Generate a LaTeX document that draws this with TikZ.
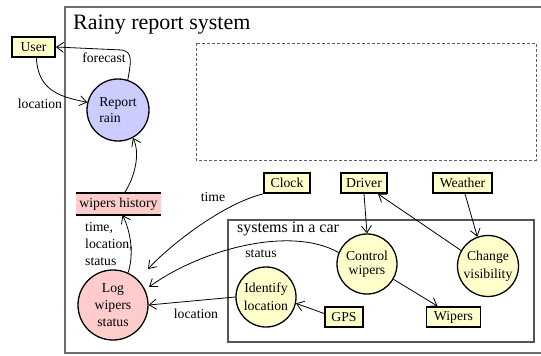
\documentclass[tikz,border=0pt]{standalone}
\usepackage{fontspec}
\setmainfont{Liberation Serif}
\newfontfamily\diagfont{Liberation Serif}
\usetikzlibrary{arrows.meta,calc}
\definecolor{entityfill}{HTML}{FFFFCC}
\definecolor{reportfill}{HTML}{CCCCFF}
\definecolor{storefill}{HTML}{FFCCCC}
\definecolor{framegray}{HTML}{6E6E6E}
\definecolor{boxgray}{HTML}{555555}
\definecolor{dashgray}{HTML}{606060}
\begin{document}
\begin{tikzpicture}[x=1pt,y=-1pt,
  txt/.style={font=\diagfont\fontsize{13.7}{16.5}\selectfont},
  entity/.style={txt, draw=black, line width=1.8pt, fill=entityfill,
    minimum height=20pt, inner xsep=2pt, inner ysep=2pt},
  process/.style={circle, draw=black, line width=1.3pt, inner sep=0pt, align=center},
  flow/.style={-{Straight Barb[length=7pt,width=10pt]}, line width=0.8pt},
  lbl/.style={txt, inner sep=0pt}]
\useasboundingbox (0,0) rectangle (541,356);

% system frame, open on the right
\draw[framegray, line width=1.5pt] (545,7) -- (65,7) -- (65,353) -- (545,353);
\node[anchor=base west, inner sep=0pt, font=\diagfont\fontsize{22}{26}\selectfont] (title) at (73,29) {Rainy report system};

% empty placeholder area
\draw[dashgray, dash pattern=on 3pt off 2pt, line width=0.9pt] (196,43) rectangle (536,160);

% car subsystem
\draw[boxgray, line width=1.2pt] (228,220) rectangle (534,342);
\node[anchor=base west, inner sep=0pt, font=\diagfont\fontsize{16}{19}\selectfont] (cartitle) at (237,232) {systems in a car};

% external entities
\node[entity, minimum width=43pt] (user) at (33.5,47) {User};
\node[entity, minimum width=46pt] (clock) at (287,183) {Clock};
\node[entity, minimum width=46pt] (driver) at (364,183) {Driver};
\node[entity, minimum width=59pt] (weather) at (462.5,183) {Weather};
\node[entity, minimum width=38pt] (gps) at (344,317) {GPS};
\node[entity, minimum width=54pt] (wipers) at (453.5,317) {Wipers};

% data store
\node[txt, fill=storefill, minimum width=85pt, minimum height=22pt, inner sep=0pt] (wh) at (118.5,204) {wipers history};
\draw[line width=1.8pt] (wh.north west) -- (wh.north east);
\draw[line width=1.8pt] (wh.south west) -- (wh.south east);

% processes
\node[process, fill=reportfill, minimum size=62pt, align=left, font=\diagfont\fontsize{13.7}{16}\selectfont] (report) at (118,110) {Report\\rain};
\node[process, fill=storefill, minimum size=70pt, font=\diagfont\fontsize{13.7}{17}\selectfont] (log) at (113,305) {Log\\wipers\\status};
\node[process, fill=entityfill, minimum size=60pt, font=\diagfont\fontsize{13.7}{14}\selectfont] (control) at (367,264) {Control\\wipers};
\node[process, fill=entityfill, minimum size=61pt, font=\diagfont\fontsize{13.7}{18}\selectfont] (visib) at (488,266) {Change\\visibility};
\node[process, fill=entityfill, minimum size=60pt, font=\diagfont\fontsize{13.7}{18}\selectfont] (identify) at (266,297) {Identify\\location};

% arrow ends beside the log process
\coordinate (logA) at (148,269);
\coordinate (logB) at (149,287);

% data flows
\draw[flow] (report.72) .. controls (131,62) and (133,52) .. (122,50) -- (user.east);
\node[lbl, anchor=base] (lforecast) at (104,62) {forecast};
\draw[flow] (user.-75) .. controls (38,92) and (62,97) .. (report.166);
\node[lbl, anchor=base] (luserloc) at (40,108) {location};
\draw[flow] ([xshift=6pt]wh.north) .. controls (136,175) and (140,152) .. (report.-62);
\draw[flow] (log.65) .. controls (134,255) and (131,232) .. ([xshift=4pt]wh.south);
\node[lbl, anchor=north west, align=left, font=\diagfont\fontsize{13.7}{17}\selectfont] (lrecord) at (85,222) {time,\\location,\\status};
\draw[flow] (clock.south west) .. controls (225,203) and (172,243) .. (logA);
\node[lbl, anchor=base] (ltime) at (213,201.5) {time};
\draw[flow] (control.158) .. controls (290,225) and (200,250) .. (logB);
\node[lbl, anchor=base] (lstatus) at (261,257) {status};
\draw[flow] (identify.west) -- (log.east);
\node[lbl, anchor=base] (lloc) at (196,318) {location};
\draw[flow] (gps.170) -- (identify.-12);
\draw[flow] (driver.south) -- (control.north);
\draw[flow] (visib.150) -- ([xshift=14pt]driver.south);
\draw[flow] ([xshift=2.5pt]weather.south) -- (visib.110);
\draw[flow] (control.-30) -- ([xshift=-16pt]wipers.north);
\end{tikzpicture}
\end{document}
